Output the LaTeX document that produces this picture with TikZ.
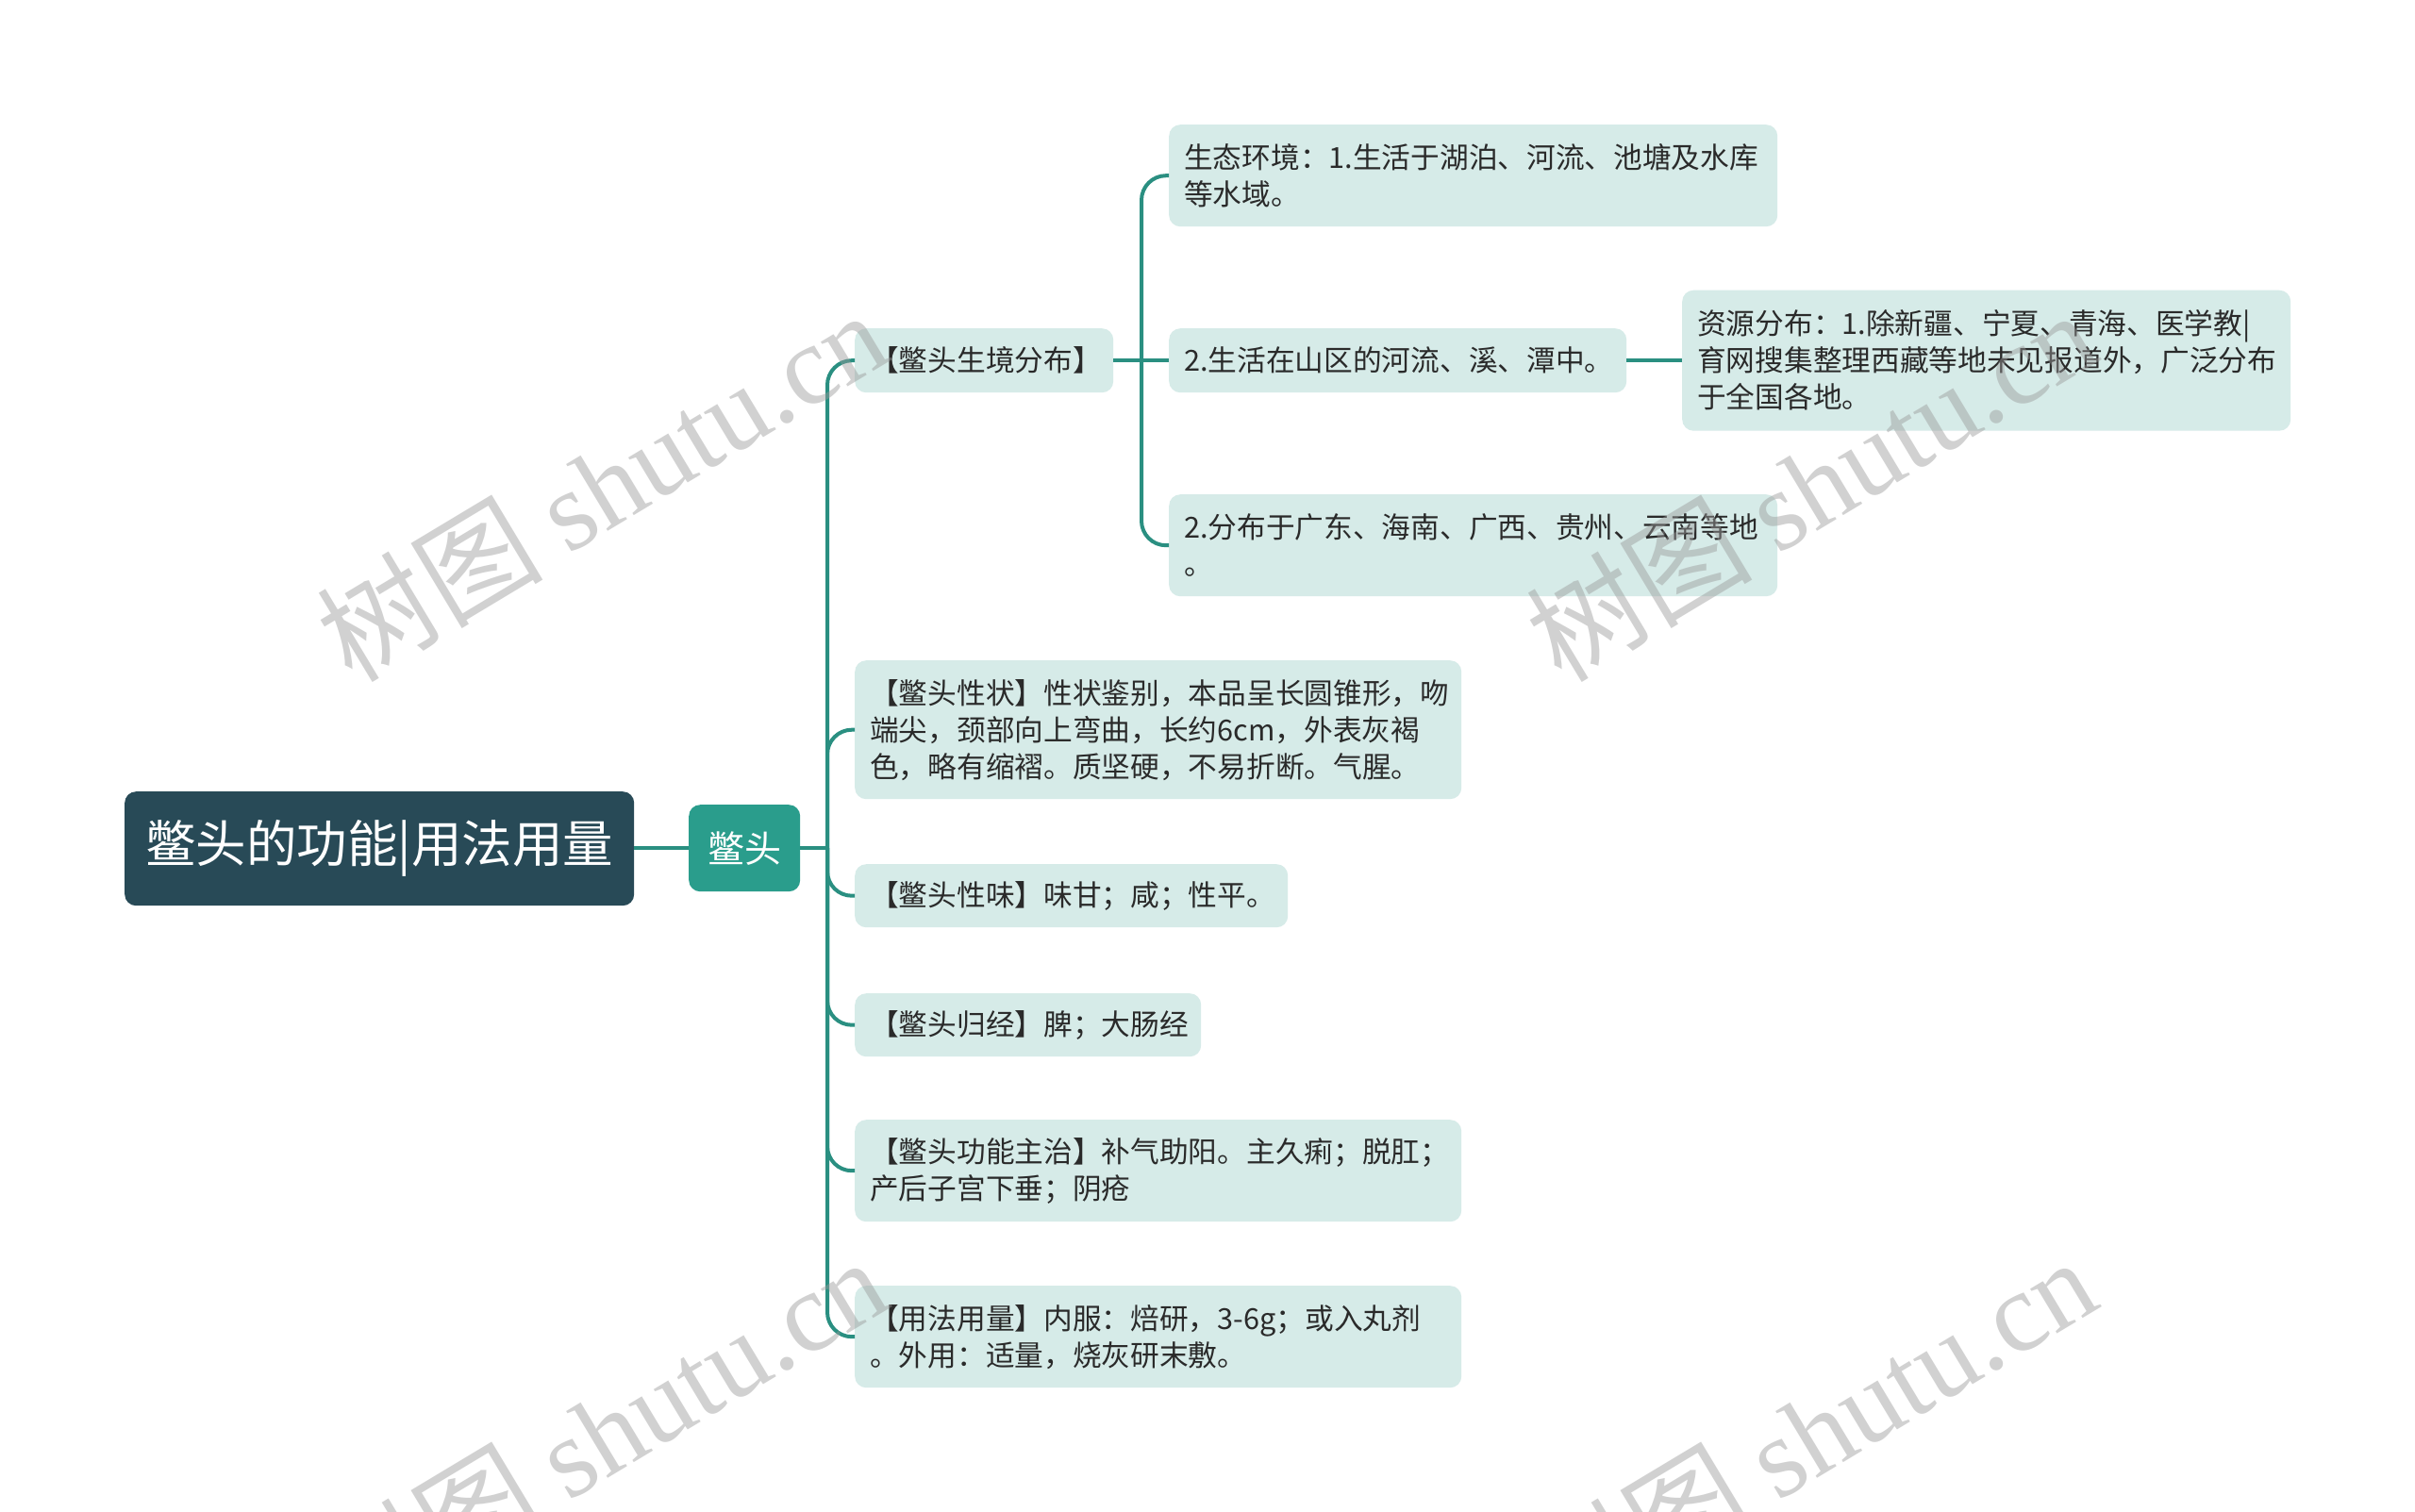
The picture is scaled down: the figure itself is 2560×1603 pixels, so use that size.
\documentclass[tikz,border=0pt]{standalone}
\usepackage{fontspec}
\setmainfont{Noto Sans CJK SC}
\newfontfamily\wmlat{Liberation Serif}
\newfontfamily\cjk{Noto Sans CJK SC}
\definecolor{rootc}{HTML}{284A57}
\definecolor{subc}{HTML}{2A9D8C}
\definecolor{linec}{HTML}{2A8F81}
\definecolor{boxc}{HTML}{D6EBE8}
\definecolor{txt}{HTML}{2A2A2A}
\definecolor{wmc}{HTML}{9A9A9A}
\begin{document}
\begin{tikzpicture}[x=1pt,y=-1pt,
  box/.style={fill=boxc, rounded corners=12, anchor=north west, inner xsep=16, inner ysep=0,
    align=left, text=txt, font=\fontsize{30.7}{39}\selectfont},
  conn/.style={draw=linec, line width=4},
  wm/.style={text=wmc, opacity=0.45, rotate=31, inner sep=0, font=\fontsize{120}{130}\selectfont}]
\useasboundingbox[fill=white] (0,0) rectangle (2560,1603);

% root and main topic
\node[fill=rootc, rounded corners=12, anchor=north west, inner sep=0, minimum width=540, minimum height=121,
  text=white, font=\fontsize{53.5}{60}\selectfont] (root) at (132,839) {鳖头的功能|用法用量};
\node[fill=subc, rounded corners=12, anchor=north west, inner sep=0, minimum width=118, minimum height=92,
  text=white, font=\fontsize{39}{45}\selectfont] (bt) at (730,853) {鳖头};

% level 2
\node[box, text width=242, minimum height=68] (n1) at (906,348) {【鳖头生境分布】};
\node[box, text width=611, minimum height=147] (n2) at (906,700) {【鳖头性状】性状鉴别，本品呈长圆锥形，吻\\端尖，颈部向上弯曲，长约6cm，外表灰褐\\色，略有缩褶。质坚硬，不易折断。气腥。};
\node[box, text width=427, minimum height=67] (n3) at (906,916) {【鳖头性味】味甘；咸；性平。};
\node[box, text width=335, minimum height=67] (n4) at (906,1053) {【鳖头归经】脾；大肠经};
\node[box, text width=611, minimum height=108] (n5) at (906,1187) {【鳖头功能主治】补气助阳。主久痢；脱肛；\\产后子宫下垂；阴疮};
\node[box, text width=611, minimum height=108] (n6) at (906,1363) {【用法用量】内服：焙研，3-6g；或入丸剂\\。外用：适量，烧灰研末敷。};

% level 3
\node[box, text width=613, minimum height=108] (a) at (1239,132) {生态环境：1.生活于湖泊、河流、池塘及水库\\等水域。};
\node[box, text width=453, minimum height=68] (b) at (1239,348) {2.生活在山区的河流、溪、潭中。};
\node[box, text width=613, minimum height=108] (c) at (1239,524) {2.分布于广东、海南、广西、贵州、云南等地\\。};

% level 4
\node[box, text width=613, minimum height=149] (res) at (1783,307.5) {资源分布：1.除新疆、宁夏、青海、医学教|\\育网搜集整理西藏等地未见报道外，广泛分布\\于全国各地。};

% connectors
\coordinate (rj) at (700,899);
\draw[conn] (root.east |- rj) -- (bt.west |- rj);
\coordinate (tj) at (877,899);
\draw[conn] (bt.east |- tj) -- (tj);
\foreach \n in {n1,n2,n3,n4,n5,n6}
  \draw[conn, rounded corners=26] (tj) |- (\n.west);
\coordinate (sj) at (1210,382);
\draw[conn] (n1.east) -- (b.west);
\draw[conn, rounded corners=26] (sj) |- (a.west);
\draw[conn, rounded corners=26] (sj) |- (c.west);
\draw[conn] (b.east) -- (res.west);

% watermarks
\node[wm] (w1) at (637,514) {{\cjk 树图} {\wmlat shutu.cn}};
\node[wm] (w2) at (1919,514) {{\cjk 树图} {\wmlat shutu.cn}};
\node[wm] (w3) at (637,1518) {{\cjk 树图} {\wmlat shutu.cn}};
\node[wm] (w4) at (1919,1518) {{\cjk 树图} {\wmlat shutu.cn}};
\end{tikzpicture}
\end{document}
